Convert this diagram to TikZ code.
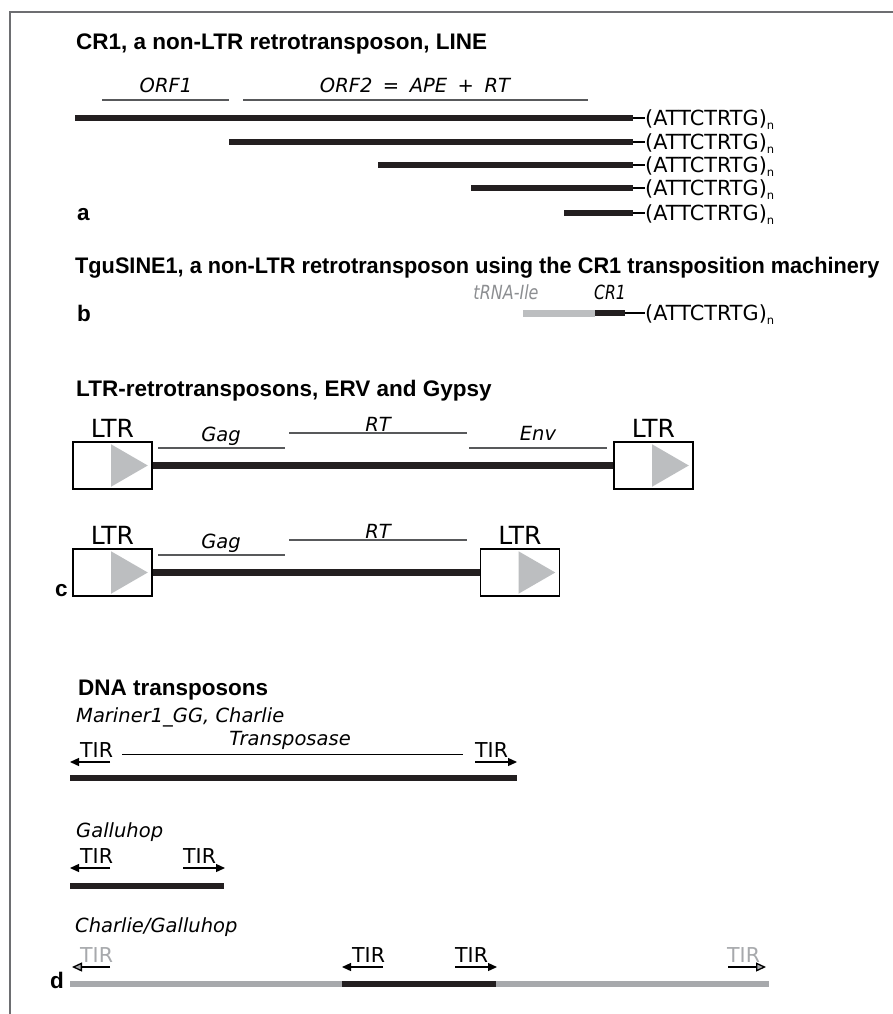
\documentclass[tikz,border=0pt]{standalone}
\usepackage{fontspec}
\setmainfont{DejaVu Sans}
\newfontfamily\headfont{Liberation Sans}
\usetikzlibrary{arrows.meta, positioning}
\definecolor{barblack}{HTML}{231F20}
\definecolor{bargray}{HTML}{A7A9AC}
\definecolor{trnagray}{HTML}{BCBEC0}
\definecolor{orfgray}{HTML}{58595B}
\definecolor{textgray}{HTML}{8C8E91}
\definecolor{framegray}{HTML}{6D6E71}
\newcommand{\rpt}{(ATTCTRTG){\fontsize{11.5}{12}\selectfont\raisebox{-4pt}{n}}}
\newcommand{\gap}{\hspace{10.5pt}}

\begin{document}
\begin{tikzpicture}[
    x=1pt, y=-1pt,
    head/.style={font=\headfont\bfseries\fontsize{22.5}{25}\selectfont, anchor=base west, inner sep=0pt},
    gene/.style={font=\itshape\fontsize{19.5}{22}\selectfont, anchor=base, inner sep=0pt},
    motif/.style={font=\fontsize{20.8}{23}\selectfont, anchor=base west, inner sep=0pt},
    tir/.style={font=\fontsize{20.5}{22}\selectfont, anchor=base west, inner sep=0pt},
    ltrbox/.style={draw, line width=1.5pt, fill=white, minimum width=79pt, minimum height=47pt, inner sep=0pt},
    ltrlabel/.style={font=\fontsize{25}{27}\selectfont, inner sep=0pt},
    bar/.style={draw=barblack, line width=6.5pt},
    graybar/.style={draw=bargray, line width=6.5pt},
    orf/.style={draw=orfgray, line width=1.2pt},
    tail/.style={line width=1.2pt},
    tip/.style={line width=1.3pt, -{Triangle[length=9pt,width=8pt]}},
    graytip/.style={line width=1.3pt, -{Triangle[length=10pt,width=9pt,fill=bargray]}}
]
    \useasboundingbox (0,0) rectangle (893,1014);
    \draw[framegray, line width=2pt] (893,12) -- (10,12) -- (10,1014);

    % a
    \node[head] (titleA) at (76,50) {CR1, a non-LTR retrotransposon, LINE};
    \node[gene] (orf1) at (166,93) {ORF1};
    \node[gene] (orf2) at (415,93) {ORF2\gap=\gap APE\gap+\gap RT};
    \draw[orf] (102,100) -- (229,100);
    \draw[orf] (243,100) -- (588,100);
    \foreach \xs/\yb [count=\i] in {75/118,229/142,378/165,471/188,564/213}{
        \draw[bar] (\xs,\yb) -- (633,\yb);
        \draw[tail] (633,\yb) -- (645,\yb);
        \node[motif] (rep\i) at (645,\yb+7.5) {\rpt};
    }
    \node[head] (a) at (77,220) {a};

    % b
    \node[head] (titleB) at (75,273) {\scalebox{0.965}[1]{TguSINE1, a non-LTR retrotransposon using the CR1 transposition machinery}};
    \node[gene, text=textgray] (trna) at (506,299) {\scalebox{0.82}[1]{tRNA-Ile}};
    \node[gene] (cr1) at (610,299) {\scalebox{0.8}[1]{CR1}};
    \draw[trnagray, line width=7pt] (523,313) -- (595,313);
    \draw[bar] (595,313) -- (625,313);
    \draw[tail] (625,313) -- (645,313);
    \node[motif] (repB) at (645,320.5) {\rpt};
    \node[head] (b) at (77,321) {b};

    % c
    \node[head] (titleC) at (76,396) {LTR-retrotransposons, ERV and Gypsy};
    \node[ltrbox] (ltr1) at (112.5,465.5) {};
    \node[ltrbox] (ltr2) at (653.5,465.5) {};
    \node[ltrbox] (ltr3) at (112.5,572.5) {};
    \node[ltrbox] (ltr4) at (520,572.5) {};
    \foreach \b in {ltr1,ltr2,ltr3,ltr4}{
        \fill[trnagray] ([shift={(-1.5,3)}]\b.north) -- ([shift={(-5,0)}]\b.east)
            -- ([shift={(-1.5,-3)}]\b.south) -- cycle;
        \node[ltrlabel, above=4pt of \b] {LTR};
    }
    \draw[bar] (ltr1) -- (ltr2);
    \draw[bar] (ltr3) -- (ltr4);
    \draw[orf] (158,448) -- (285,448);
    \draw[orf] (289,433) -- (467,433);
    \draw[orf] (469,448) -- (607,448);
    \draw[orf] (158,555) -- (285,555);
    \draw[orf] (289,540) -- (467,540);
    \node[gene] (gag1) at (221,441) {Gag};
    \node[gene] (rt1) at (378,431) {RT};
    \node[gene] (env) at (538,440) {Env};
    \node[gene] (gag2) at (221,548) {Gag};
    \node[gene] (rt2) at (378,538) {RT};
    \node[head] (c) at (55,596) {c};

    % d
    \node[head] (titleD) at (78,695) {DNA transposons};
    \node[gene, anchor=base west] (mariner) at (76,722) {Mariner1\_GG, Charlie};
    \node[gene] (tpase) at (290,745) {Transposase};
    \draw[line width=1pt] (122,754) -- (463,754);
    \node[tir] (tir1) at (80,757) {TIR};
    \node[tir] (tir2) at (475,757) {TIR};
    \draw[tip] (110,762) -- (70,762);
    \draw[tip] (475,762) -- (517,762);
    \draw[bar] (70,778) -- (517,778);

    \node[gene, anchor=base west] (galluhop) at (76,837) {Galluhop};
    \node[tir] (tir3) at (80,863) {TIR};
    \node[tir] (tir4) at (183,863) {TIR};
    \draw[tip] (110,868) -- (70,868);
    \draw[tip] (183,868) -- (225,868);
    \draw[bar] (70,886) -- (224,886);

    \node[gene, anchor=base west] (hybrid) at (75,932) {Charlie/Galluhop};
    \node[tir, text=bargray] (tir5) at (80,962) {TIR};
    \node[tir] (tir6) at (352,962) {TIR};
    \node[tir] (tir7) at (455,962) {TIR};
    \node[tir, text=bargray] (tir8) at (727,962) {TIR};
    \draw[graytip] (110,967) -- (72,967);
    \draw[tip] (383,967) -- (342,967);
    \draw[tip] (455,967) -- (497,967);
    \draw[graytip] (728,967) -- (766,967);
    \draw[graybar] (70,984) -- (342,984);
    \draw[bar] (342,984) -- (496,984);
    \draw[graybar] (496,984) -- (769,984);
    \node[head] (d) at (50,988) {d};
\end{tikzpicture}
\end{document}
